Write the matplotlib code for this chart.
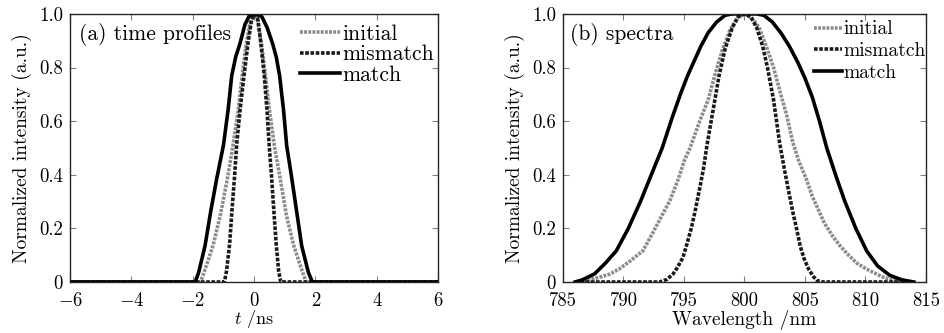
import matplotlib
matplotlib.use("Agg")
import matplotlib.pyplot as plt

plt.rcParams['font.family'] = ['cmr10', 'DejaVu Serif']
plt.rcParams['mathtext.fontset'] = 'cm'
plt.rcParams['axes.unicode_minus'] = False
plt.rcParams['axes.formatter.use_mathtext'] = True

# ---------------- (a) time profiles ----------------
t_initial = [-6, -1.75, -1.65, -1.5, -1.33, -1.1, -0.88, -0.7, -0.52, -0.4, -0.27, -0.13, 0,
             0.13, 0.25, 0.38, 0.5, 0.67, 0.86, 1.05, 1.28, 1.45, 1.6, 1.7, 6]
v_initial = [0, 0, 0.03, 0.08, 0.14, 0.25, 0.38, 0.50, 0.64, 0.76, 0.88, 0.97, 1.0,
             0.97, 0.88, 0.76, 0.64, 0.50, 0.38, 0.25, 0.14, 0.08, 0.03, 0, 0]

t_mismatch = [-6, -0.97, -0.9, -0.8, -0.72, -0.64, -0.57, -0.46, -0.33, -0.2, -0.08, 0.02,
              0.12, 0.22, 0.33, 0.42, 0.49, 0.57, 0.64, 0.72, 0.8, 0.87, 6]
v_mismatch = [0, 0, 0.04, 0.14, 0.27, 0.39, 0.51, 0.64, 0.77, 0.89, 0.98, 1.0,
              0.98, 0.89, 0.77, 0.64, 0.51, 0.39, 0.27, 0.14, 0.04, 0, 0]

t_match = [-6, -1.92, -1.81, -1.6, -1.42, -1.22, -1.0, -0.85, -0.73, -0.6, -0.46, -0.3,
           -0.15, 0.05, 0.25, 0.42, 0.6, 0.72, 0.83, 0.96, 1.06, 1.23, 1.39, 1.55, 1.77,
           1.9, 6]
v_match = [0, 0, 0.035, 0.135, 0.26, 0.385, 0.51, 0.64, 0.77, 0.84, 0.89, 0.96,
           0.995, 1.0, 0.99, 0.95, 0.89, 0.84, 0.77, 0.64, 0.51, 0.385, 0.26, 0.135, 0.035,
           0, 0]

# ---------------- (b) spectra ----------------
w_initial = [786.0, 786.8, 787.8, 788.9, 789.7, 790.6, 791.6, 792.5, 793.2, 793.8, 794.5, 795.0,
             795.5, 796.3, 797.0, 797.6, 798.2, 798.8, 799.4, 800.0, 800.6, 801.2, 801.8, 802.4,
             803.0, 803.5, 804.0, 804.5, 805.1, 805.6, 806.1, 806.6, 807.3, 807.9, 808.6, 809.3,
             810.1, 810.9, 811.6, 812.5, 814.0]
s_initial = [0, 0.005, 0.015, 0.03, 0.05, 0.08, 0.116, 0.19, 0.25, 0.30, 0.38, 0.45,
             0.50, 0.60, 0.68, 0.78, 0.87, 0.94, 0.985, 1.0, 0.985, 0.95, 0.88, 0.80,
             0.70, 0.62, 0.52, 0.45, 0.385, 0.32, 0.27, 0.22, 0.17, 0.135, 0.10, 0.07,
             0.048, 0.03, 0.015, 0.005, 0]

w_mismatch = [786.0, 793.0, 793.6, 794.1, 794.4, 794.9, 795.2, 795.6, 795.9, 796.3, 796.6, 796.9,
              797.4, 797.9, 798.4, 799.0, 799.5, 800.0, 800.5, 801.0, 801.5, 801.9, 802.4, 802.9,
              803.3, 803.6, 804.0, 804.3, 804.6, 804.9, 805.3, 805.7, 806.0, 806.5, 814.0]
s_mismatch = [0, 0, 0.01, 0.03, 0.05, 0.09, 0.135, 0.20, 0.26, 0.35, 0.42, 0.51,
              0.64, 0.77, 0.87, 0.95, 0.99, 1.0, 0.99, 0.95, 0.88, 0.80, 0.68, 0.52,
              0.42, 0.35, 0.26, 0.20, 0.135, 0.09, 0.048, 0.02, 0.005, 0, 0]

w_match = [786.0, 786.6, 787.6, 788.5, 789.4, 790.4, 791.4, 792.3, 793.2, 794.0, 794.7, 795.3,
           795.8, 796.4, 797.0, 797.7, 798.4, 799.0, 800.0, 801.0, 801.6, 802.3, 803.0, 803.7,
           804.4, 805.0, 805.6, 806.2, 806.8, 807.6, 808.3, 809.2, 810.1, 811.0, 812.0, 813.0,
           814.0]
s_match = [0, 0.008, 0.03, 0.07, 0.116, 0.20, 0.30, 0.40, 0.50, 0.61, 0.70, 0.77,
           0.82, 0.88, 0.93, 0.97, 0.995, 1.0, 1.0, 1.0, 0.995, 0.97, 0.93, 0.88,
           0.82, 0.76, 0.69, 0.60, 0.50, 0.39, 0.30, 0.20, 0.116, 0.06, 0.025, 0.008,
           0]

series_labels = ['initial', 'mismatch', 'match']
y_ticks = [0, 0.2, 0.4, 0.6, 0.8, 1.0]
y_ticklabels = ['0', '0.2', '0.4', '0.6', '0.8', '1.0']
xa_ticks = [-6, -4, -2, 0, 2, 4, 6]
xb_ticks = [785, 790, 795, 800, 805, 810, 815]

FS = 13.5
style_initial = dict(color='0.55', lw=2.6, ls=(0, (0.8, 0.35)))
style_mismatch = dict(color='0.1', lw=2.6, ls=(0, (1.0, 0.45)))
style_match = dict(color='black', lw=2.6, ls='-')

fig = plt.figure(figsize=(9.44, 3.33), dpi=100)
axa = fig.add_axes([0.0742, 0.1532, 0.390, 0.805])
axb = fig.add_axes([0.5964, 0.1532, 0.3845, 0.805])

axa.plot(t_initial, v_initial, label=series_labels[0], **style_initial)
axa.plot(t_mismatch, v_mismatch, label=series_labels[1], **style_mismatch)
axa.plot(t_match, v_match, label=series_labels[2], **style_match)

axb.plot(w_initial, s_initial, label=series_labels[0], **style_initial)
axb.plot(w_mismatch, s_mismatch, label=series_labels[1], **style_mismatch)
axb.plot(w_match, s_match, label=series_labels[2], **style_match)

for ax in (axa, axb):
    ax.set_ylim(0, 1.0)
    ax.set_yticks(y_ticks)
    ax.set_yticklabels(y_ticklabels)
    ax.tick_params(direction='in', top=True, right=True, length=4, width=0.8,
                   color='0.5', labelsize=FS)
    ax.tick_params(axis='y', pad=5)
    ax.tick_params(axis='x', pad=7)
    for s in ax.spines.values():
        s.set_linewidth(1.0)
        s.set_color('0.15')
    ax.set_ylabel('Normalized intensity (a.u.)', fontsize=14, labelpad=5)

axa.set_xlim(-6, 6)
axa.set_xticks(xa_ticks)
axa.set_xticklabels([r'$%d$' % v if v < 0 else str(v) for v in xa_ticks])
axa.set_xlabel(r'$t$ /ns', fontsize=13, labelpad=-1)

axb.set_xlim(785, 815)
axb.set_xticks(xb_ticks)
axb.set_xticklabels([str(v) for v in xb_ticks])
axb.set_xlabel('Wavelength /nm', fontsize=14, labelpad=0)

axa.text(0.025, 0.925, '(a) time profiles', transform=axa.transAxes, fontsize=15.5,
         va='center', ha='left')
axb.text(0.02, 0.925, '(b) spectra', transform=axb.transAxes, fontsize=15.5,
         va='center', ha='left')

axa.legend(loc='upper right', bbox_to_anchor=(1.0, 0.978), frameon=False, fontsize=15.5,
           handlelength=1.85, handletextpad=0.1, borderaxespad=0.1, borderpad=0.1,
           labelspacing=0.05)
axb.legend(loc='upper right', bbox_to_anchor=(1.01, 0.99), frameon=False, fontsize=14,
           handlelength=1.4, handletextpad=0.1, borderaxespad=0.1, borderpad=0.1,
           labelspacing=0.2)

fig.savefig('out.png', dpi=100)
